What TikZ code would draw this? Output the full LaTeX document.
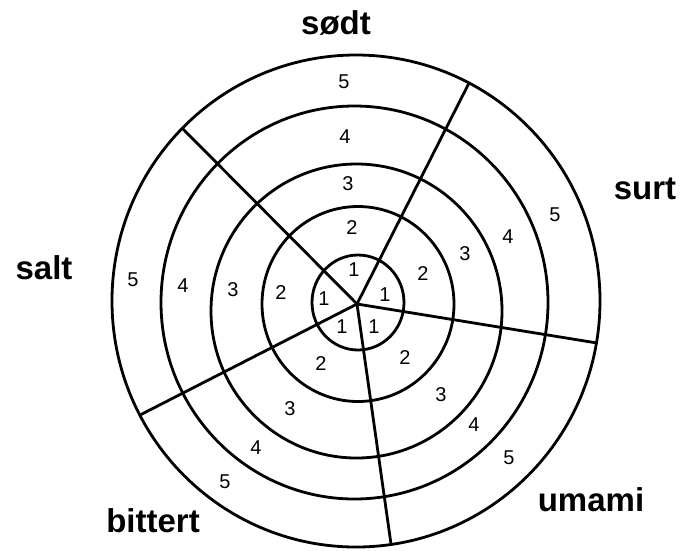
\documentclass[tikz,border=0pt]{standalone}
\usepackage{fontspec}
\setmainfont{Liberation Sans}
\begin{document}
\begin{tikzpicture}[x=1pt,y=-1pt,
  ring/.style={line width=2.8pt},
  spoke/.style={line width=2.8pt},
  num/.style={font=\fontsize{20}{24}\selectfont, inner sep=0pt},
  taste/.style={font=\bfseries\fontsize{33}{40}\selectfont, inner sep=0pt}]
\useasboundingbox (0,0) rectangle (698,550);
% rings
\draw[ring] (356,301) ellipse [x radius=244pt, y radius=246pt];
\draw[ring] (354.5,302.5) ellipse [x radius=193.5pt, y radius=196.5pt];
\draw[ring] (356.5,311) ellipse [x radius=145.5pt, y radius=147pt];
\draw[ring] (358,304) ellipse [x radius=96pt, y radius=97.5pt];
\draw[ring] (358,302.5) ellipse [x radius=46pt, y radius=47.5pt];
% spokes
\coordinate (c) at (357,304);
\coordinate (eUL) at (182,128);
\coordinate (eUR) at (469,83);
\coordinate (eR) at (597,343);
\coordinate (eB) at (391,544);
\coordinate (eLL) at (140,415);
\draw[spoke] (c) -- (eUL);
\draw[spoke] (c) -- (eUR);
\draw[spoke] (c) -- (eR);
\draw[spoke] (c) -- (eB);
\draw[spoke] (c) -- (eLL);
% numbers: sødt
\node[num] (s1) at (354,270) {1};
\node[num] (s2) at (352,228) {2};
\node[num] (s3) at (348,184) {3};
\node[num] (s4) at (345,137) {4};
\node[num] (s5) at (344,82) {5};
% surt
\node[num] (r1) at (385,295) {1};
\node[num] (r2) at (423,274) {2};
\node[num] (r3) at (465,254) {3};
\node[num] (r4) at (508,237) {4};
\node[num] (r5) at (555,215) {5};
% umami
\node[num] (u1) at (374,327) {1};
\node[num] (u2) at (405,358) {2};
\node[num] (u3) at (441,395) {3};
\node[num] (u4) at (474,425) {4};
\node[num] (u5) at (509,458) {5};
% bittert
\node[num] (b1) at (342,327) {1};
\node[num] (b2) at (321,364) {2};
\node[num] (b3) at (290,409) {3};
\node[num] (b4) at (256,448) {4};
\node[num] (b5) at (225,482) {5};
% salt
\node[num] (a1) at (324,299) {1};
\node[num] (a2) at (281,293) {2};
\node[num] (a3) at (233,290) {3};
\node[num] (a4) at (183,286) {4};
\node[num] (a5) at (133,280) {5};
% taste labels
\node[taste] (sodt) at (336,23) {sødt};
\node[taste] (surt) at (645,189) {surt};
\node[taste] (umami) at (591,500) {umami};
\node[taste] (bittert) at (153,521) {bittert};
\node[taste] (salt) at (44,267.5) {salt};
\end{tikzpicture}
\end{document}
